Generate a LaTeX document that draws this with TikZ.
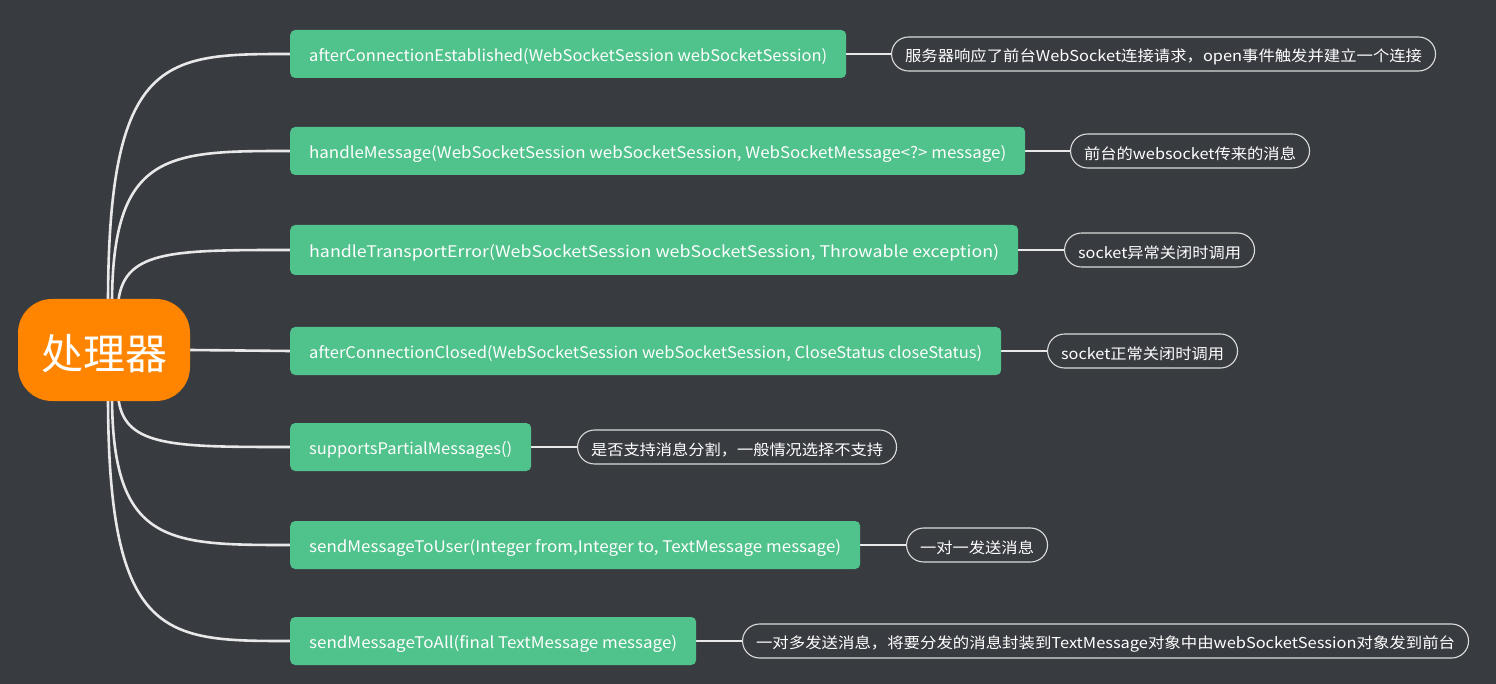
\documentclass[tikz,border=0pt]{standalone}
\usepackage{fontspec}
\setmainfont{Noto Sans CJK SC}
\usetikzlibrary{backgrounds}
\definecolor{bgc}{RGB}{56,59,64}
\definecolor{fngreen}{RGB}{80,194,139}
\definecolor{rootorange}{RGB}{255,133,0}
\definecolor{linec}{RGB}{232,232,232}
\definecolor{notec}{RGB}{220,220,220}
\newcommand{\fitw}[2]{\raisebox{-3pt}[\height][\depth]{\resizebox{#1pt}{\height}{#2}}}
\tikzset{
  rootbox/.style={fill=rootorange, rounded corners=34pt, minimum width=172pt, minimum height=102pt, inner sep=0pt, text=white, font=\fontsize{42}{48}\selectfont},
  fnbox/.style={fill=fngreen, rounded corners=5pt, minimum height=48pt, inner sep=0pt, anchor=west, text=white, font=\fontsize{16}{19}\selectfont},
  notebox/.style={draw=notec, line width=1.1pt, rounded corners=17pt, minimum height=34pt, inner sep=0pt, anchor=west, text=white, font=\fontsize{15}{18}\selectfont},
  conn/.style={draw=linec, line width=2.6pt},
  nconn/.style={draw=linec, line width=2.2pt},
}
\begin{document}
\begin{tikzpicture}[x=1pt,y=-1pt]
\begin{pgfonlayer}{background}
\fill[bgc] (0,0) rectangle (1496,684);
\end{pgfonlayer}
\useasboundingbox (0,0) rectangle (1496,684);

\node[rootbox] (root) at (104,350) {\raisebox{-4pt}[\height][\depth]{处理器}};

\node[fnbox, minimum width=556pt] (b1) at (290,54) {\fitw{518}{afterConnectionEstablished(WebSocketSession webSocketSession)}};
\node[fnbox, minimum width=735pt] (b2) at (290,151) {\fitw{697}{handleMessage(WebSocketSession webSocketSession, WebSocketMessage<?> message)}};
\node[fnbox, minimum width=728pt, minimum height=50pt] (b3) at (290,250) {\fitw{690}{handleTransportError(WebSocketSession webSocketSession, Throwable exception)}};
\node[fnbox, minimum width=711pt] (b4) at (290,351) {\fitw{673}{afterConnectionClosed(WebSocketSession webSocketSession, CloseStatus closeStatus)}};
\node[fnbox, minimum width=241pt] (b5) at (290,447) {\fitw{203}{supportsPartialMessages()}};
\node[fnbox, minimum width=570pt] (b6) at (290,545) {\fitw{532}{sendMessageToUser(Integer from,Integer to, TextMessage message)}};
\node[fnbox, minimum width=406pt] (b7) at (290,641) {\fitw{368}{sendMessageToAll(final TextMessage message)}};

\node[notebox, minimum width=544pt] (n1) at (891,54) {\fitw{517}{服务器响应了前台WebSocket连接请求，open事件触发并建立一个连接}};
\node[notebox, minimum width=239pt] (n2) at (1070,151) {\fitw{212}{前台的websocket传来的消息}};
\node[notebox, minimum width=190pt] (n3) at (1064,250) {\fitw{163}{socket异常关闭时调用}};
\node[notebox, minimum width=190pt] (n4) at (1047,351) {\fitw{163}{socket正常关闭时调用}};
\node[notebox, minimum width=319pt] (n5) at (577,447) {\fitw{292}{是否支持消息分割，一般情况选择不支持}};
\node[notebox, minimum width=141pt] (n6) at (906,545) {\fitw{114}{一对一发送消息}};
\node[notebox, minimum width=726pt] (n7) at (742,641) {\fitw{699}{一对多发送消息，将要分发的消息封装到TextMessage对象中由webSocketSession对象发到前台}};

\coordinate (s1) at (108,305);
\coordinate (s2) at (112,305);
\coordinate (s3) at (118,305);
\coordinate (s5) at (118,395);
\coordinate (s6) at (112,395);
\coordinate (s7) at (108,395);

\begin{pgfonlayer}{background}
\draw[conn] (s1) .. controls (108,54) and (165,54) .. (b1.west);
\draw[conn] (s2) .. controls (112,151) and (168,151) .. (b2.west);
\draw[conn] (s3) .. controls (122,250) and (170,250) .. (b3.west);
\draw[conn] (root.east) -- (b4.west);
\draw[conn] (s5) .. controls (122,447) and (170,447) .. (b5.west);
\draw[conn] (s6) .. controls (112,545) and (168,545) .. (b6.west);
\draw[conn] (s7) .. controls (108,641) and (165,641) .. (b7.west);
\foreach \i in {1,...,7} {\draw[nconn] (b\i.east) -- (n\i.west);}
\end{pgfonlayer}
\end{tikzpicture}
\end{document}
